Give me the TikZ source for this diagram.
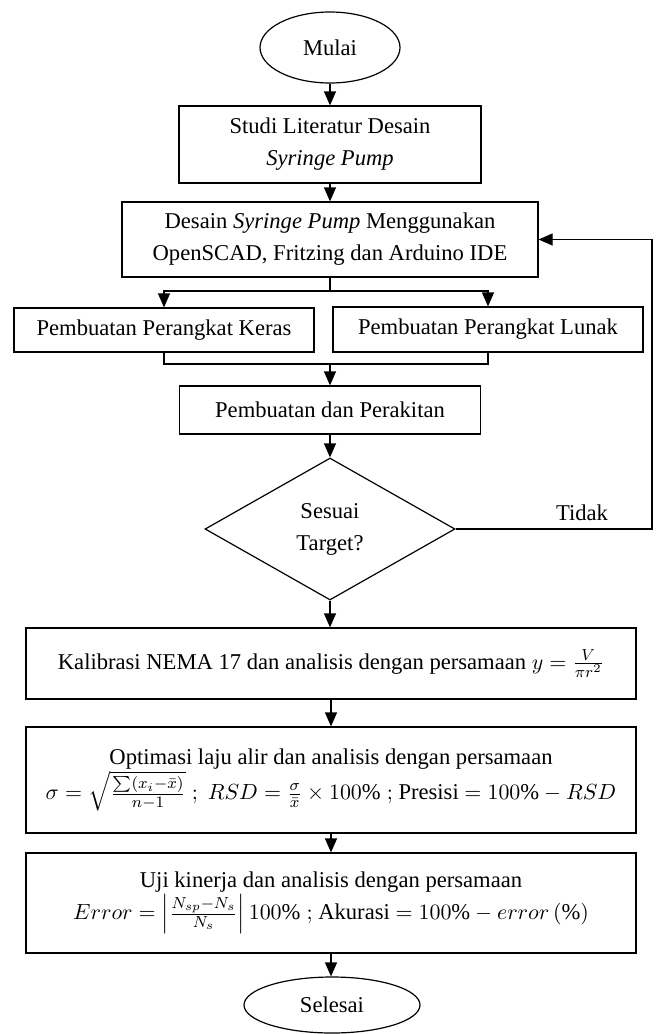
\documentclass[tikz,border=0pt]{standalone}
\usepackage{fontspec}
\setmainfont{Liberation Serif}
\usepackage{amsmath}
\usetikzlibrary{shapes.geometric,arrows.meta}

\tikzset{
  proses/.style={draw, line width=0.6pt, align=center, inner sep=2pt},
  terminal/.style={draw, ellipse, line width=0.6pt, inner sep=0pt},
  keputusan/.style={draw, diamond, line width=0.6pt, align=center, inner sep=0pt},
  panah/.style={line width=0.6pt, -{Triangle[length=7pt,width=6pt]}},
  garis/.style={line width=0.6pt}
}

\begin{document}
\begin{tikzpicture}[x=0.5pt, y=-0.5pt, font=\fontsize{11.3}{16}\selectfont]
  \useasboundingbox (0,0) rectangle (657,1034);

                      % Start
                      \node[terminal, minimum width=70pt, minimum height=35.5pt] (mulai) at (330,47.5) {Mulai};

                  % Design steps
                  \node[proses, minimum width=151pt, minimum height=38.5pt] (studi) at (330,144.5)
                    {Studi Literatur Desain\\ \textit{Syringe Pump}};
                  \node[proses, minimum width=208pt, minimum height=37.5pt] (desain) at (330,239.5)
                    {Desain \textit{Syringe Pump} Menggunakan\\ OpenSCAD, Fritzing dan Arduino IDE};

                  % Hardware and software
                  \node[proses, minimum width=150pt, minimum height=22pt] (keras) at (164,330) {Pembuatan Perangkat Keras};
                  \node[proses, minimum width=155pt, minimum height=22.5pt] (lunak) at (488,329.5) {Pembuatan Perangkat Lunak};
                  \node[proses, minimum width=150.5pt, minimum height=24pt] (rakit) at (330,410) {Pembuatan dan Perakitan};

                  % Decision
                  \node[keputusan, minimum width=125pt, minimum height=71pt] (target) at (330,529) {Sesuai\\ Target?};

                  % Testing
                  \node[proses, minimum width=305pt, minimum height=35.5pt] (kalibrasi) at (331,663.5)
                    {Kalibrasi NEMA 17 dan analisis dengan persamaan $y=\frac{V}{\pi r^2}$};
                  \node[proses, minimum width=305pt, minimum height=53pt] (optimasi) at (331,780)
                    {Optimasi laju alir dan analisis dengan persamaan\\
                     $\sigma=\sqrt{\frac{\sum(x_i-\bar{x})}{n-1}}\;;\;RSD=\frac{\sigma}{\bar{x}}\times 100\%\;;$ Presisi $=100\%-RSD$};
                  \node[proses, minimum width=305pt, minimum height=50pt] (uji) at (331,903)
                    {Uji kinerja dan analisis dengan persamaan\\
                     $Error=\left|\frac{N_{sp}-N_s}{N_s}\right|100\%\;;$ Akurasi $=100\%-error\,(\%)$};

                      % End
                      \node[terminal, minimum width=88pt, minimum height=28pt] (selesai) at (332,1005) {Selesai};

                  % Arrows
                  \coordinate (split) at (330,291);
                  \coordinate (join) at (330,364);
                  \coordinate (balik) at (652,529);
                  \draw[panah] (mulai) -- (studi);
                  \draw[panah] (studi) -- (desain);
                  \draw[garis] (desain.south) -- (split);
                  \draw[panah] (split) -| (keras.north);
                  \draw[panah] (split) -| (lunak.north);
                  \draw[garis] (keras.south) |- (join);
                  \draw[garis] (lunak.south) |- (join);
                  \draw[panah] (join) -- (rakit.north);
                  \draw[panah] (rakit) -- (target.north);
                  \draw[panah] (target.east) -- (balik) |- (desain.east);
                  \node (tidak) at (582,513) {Tidak};
                  \draw[panah] (target.south) -- (target.south |- kalibrasi.north);
                  \draw[panah] (kalibrasi.south) -- (kalibrasi.south |- optimasi.north);
                  \draw[panah] (optimasi.south) -- (optimasi.south |- uji.north);
                  \draw[panah] (uji.south) -- (uji.south |- selesai.north);
\end{tikzpicture}
\end{document}
